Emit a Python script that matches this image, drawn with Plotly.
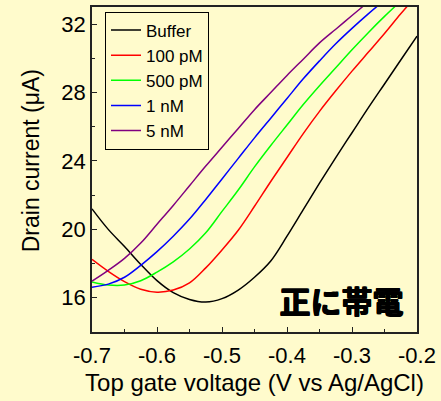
import plotly.graph_objects as go

voltage = [-0.700, -0.675, -0.650, -0.625, -0.600, -0.575, -0.550, -0.525, -0.500, -0.475,
           -0.450, -0.425, -0.400, -0.375, -0.350, -0.325, -0.300, -0.275, -0.250, -0.225, -0.200]

buffer_i = [21.2, 20.0, 19.0, 17.95, 17.0, 16.3, 15.9, 15.75, 15.95, 16.45,
            17.2, 18.15, 19.6, 21.15, 22.7, 24.2, 25.65, 27.1, 28.5, 29.9, 31.3]
pm100_i = [18.25, 17.55, 16.95, 16.5, 16.33, 16.45, 16.87, 17.75, 18.8, 19.95,
           21.35, 22.8, 24.2, 25.6, 26.9, 28.1, 29.25, 30.35, 31.45, 32.6, 33.7]
pm500_i = [16.93, 16.75, 16.75, 17.0, 17.5, 18.1, 18.85, 19.8, 21.05, 22.3,
           23.65, 24.9, 26.1, 27.3, 28.4, 29.45, 30.5, 31.5, 32.45, 33.35, 34.25]
nm1_i = [16.62, 16.8, 17.2, 17.9, 18.7, 19.6, 20.6, 21.75, 22.95, 24.15,
         25.35, 26.5, 27.65, 28.8, 29.85, 30.85, 31.75, 32.6, 33.4, 34.2, 34.95]
nm5_i = [16.97, 17.6, 18.3, 19.2, 20.3, 21.4, 22.55, 23.7, 24.8, 25.9,
         27.0, 28.0, 29.0, 29.95, 30.9, 31.7, 32.5, 33.3, 34.1, 34.85, 35.55]

series_names = ["Buffer", "100 pM", "500 pM", "1 nM", "5 nM"]
series_values = [buffer_i, pm100_i, pm500_i, nm1_i, nm5_i]
series_colors = ["#000000", "#FF0000", "#00FF00", "#0000FF", "#800080"]

x_ticks = [-0.7, -0.6, -0.5, -0.4, -0.3, -0.2]
y_ticks = [16, 20, 24, 28, 32]

BG = "#FFFBCC"
FONT = "Liberation Sans, Arial, sans-serif"

fig = go.Figure()
for name, vals, col in zip(series_names, series_values, series_colors):
    fig.add_trace(go.Scatter(x=voltage, y=vals, mode="lines", name=name,
                             line=dict(color=col, width=1.5, shape="spline")))

axis_common = dict(showline=True, mirror=True, linecolor="#222222", linewidth=1.5,
                   ticks="inside", ticklen=5, tickwidth=1, tickcolor="#222222",
                   showgrid=False, zeroline=False,
                   tickfont=dict(size=22, color="#000000", family=FONT),
                   minor=dict(ticks="inside", ticklen=3, tickwidth=1, tickcolor="#222222"))

fig.update_xaxes(range=[-0.7, -0.2], tickvals=x_ticks,
                 ticktext=[f"{v:.1f}" for v in x_ticks],
                 ticklabelstandoff=3,
                 title=dict(text="Top gate voltage (V vs Ag/AgCl)", font=dict(size=24, family=FONT, color="#000000"), standoff=7),
                 minor_dtick=0.05, **axis_common)
fig.update_yaxes(range=[14, 33], tickvals=y_ticks, minor_dtick=2, **axis_common)

# y-axis title placed to match the reference position
fig.add_annotation(text="Drain current (μA)", x=-0.187, y=0.526, xref="paper", yref="paper",
                   xanchor="center", yanchor="middle", showarrow=False, textangle=-90,
                   font=dict(size=23, family=FONT, color="#000000"))

fig.add_annotation(text="<b>正に帯電</b>", x=0.765, y=0.1, xref="paper", yref="paper",
                   xanchor="center", yanchor="middle", showarrow=False,
                   font=dict(size=31, family="Noto Sans CJK JP", color="#000000", weight=900,
                             shadow="1px 0 0 #000, 0 1px 0 #000, 1px 1px 0 #000"))

fig.update_layout(
    width=441, height=401,
    margin=dict(l=92, r=22, t=5, b=69),
    paper_bgcolor=BG, plot_bgcolor=BG,
    font=dict(family=FONT, color="#000000"),
    legend=dict(x=0.04, y=0.986, xanchor="left", yanchor="top",
                bgcolor=BG, bordercolor="#000000", borderwidth=1,
                font=dict(size=17, family=FONT, color="#000000"),
                tracegroupgap=0),
    showlegend=True,
)

fig.write_html("out.html", config={"displayModeBar": False},
               post_script="document.body.style.margin='0';document.body.style.background='" + BG + "';")
